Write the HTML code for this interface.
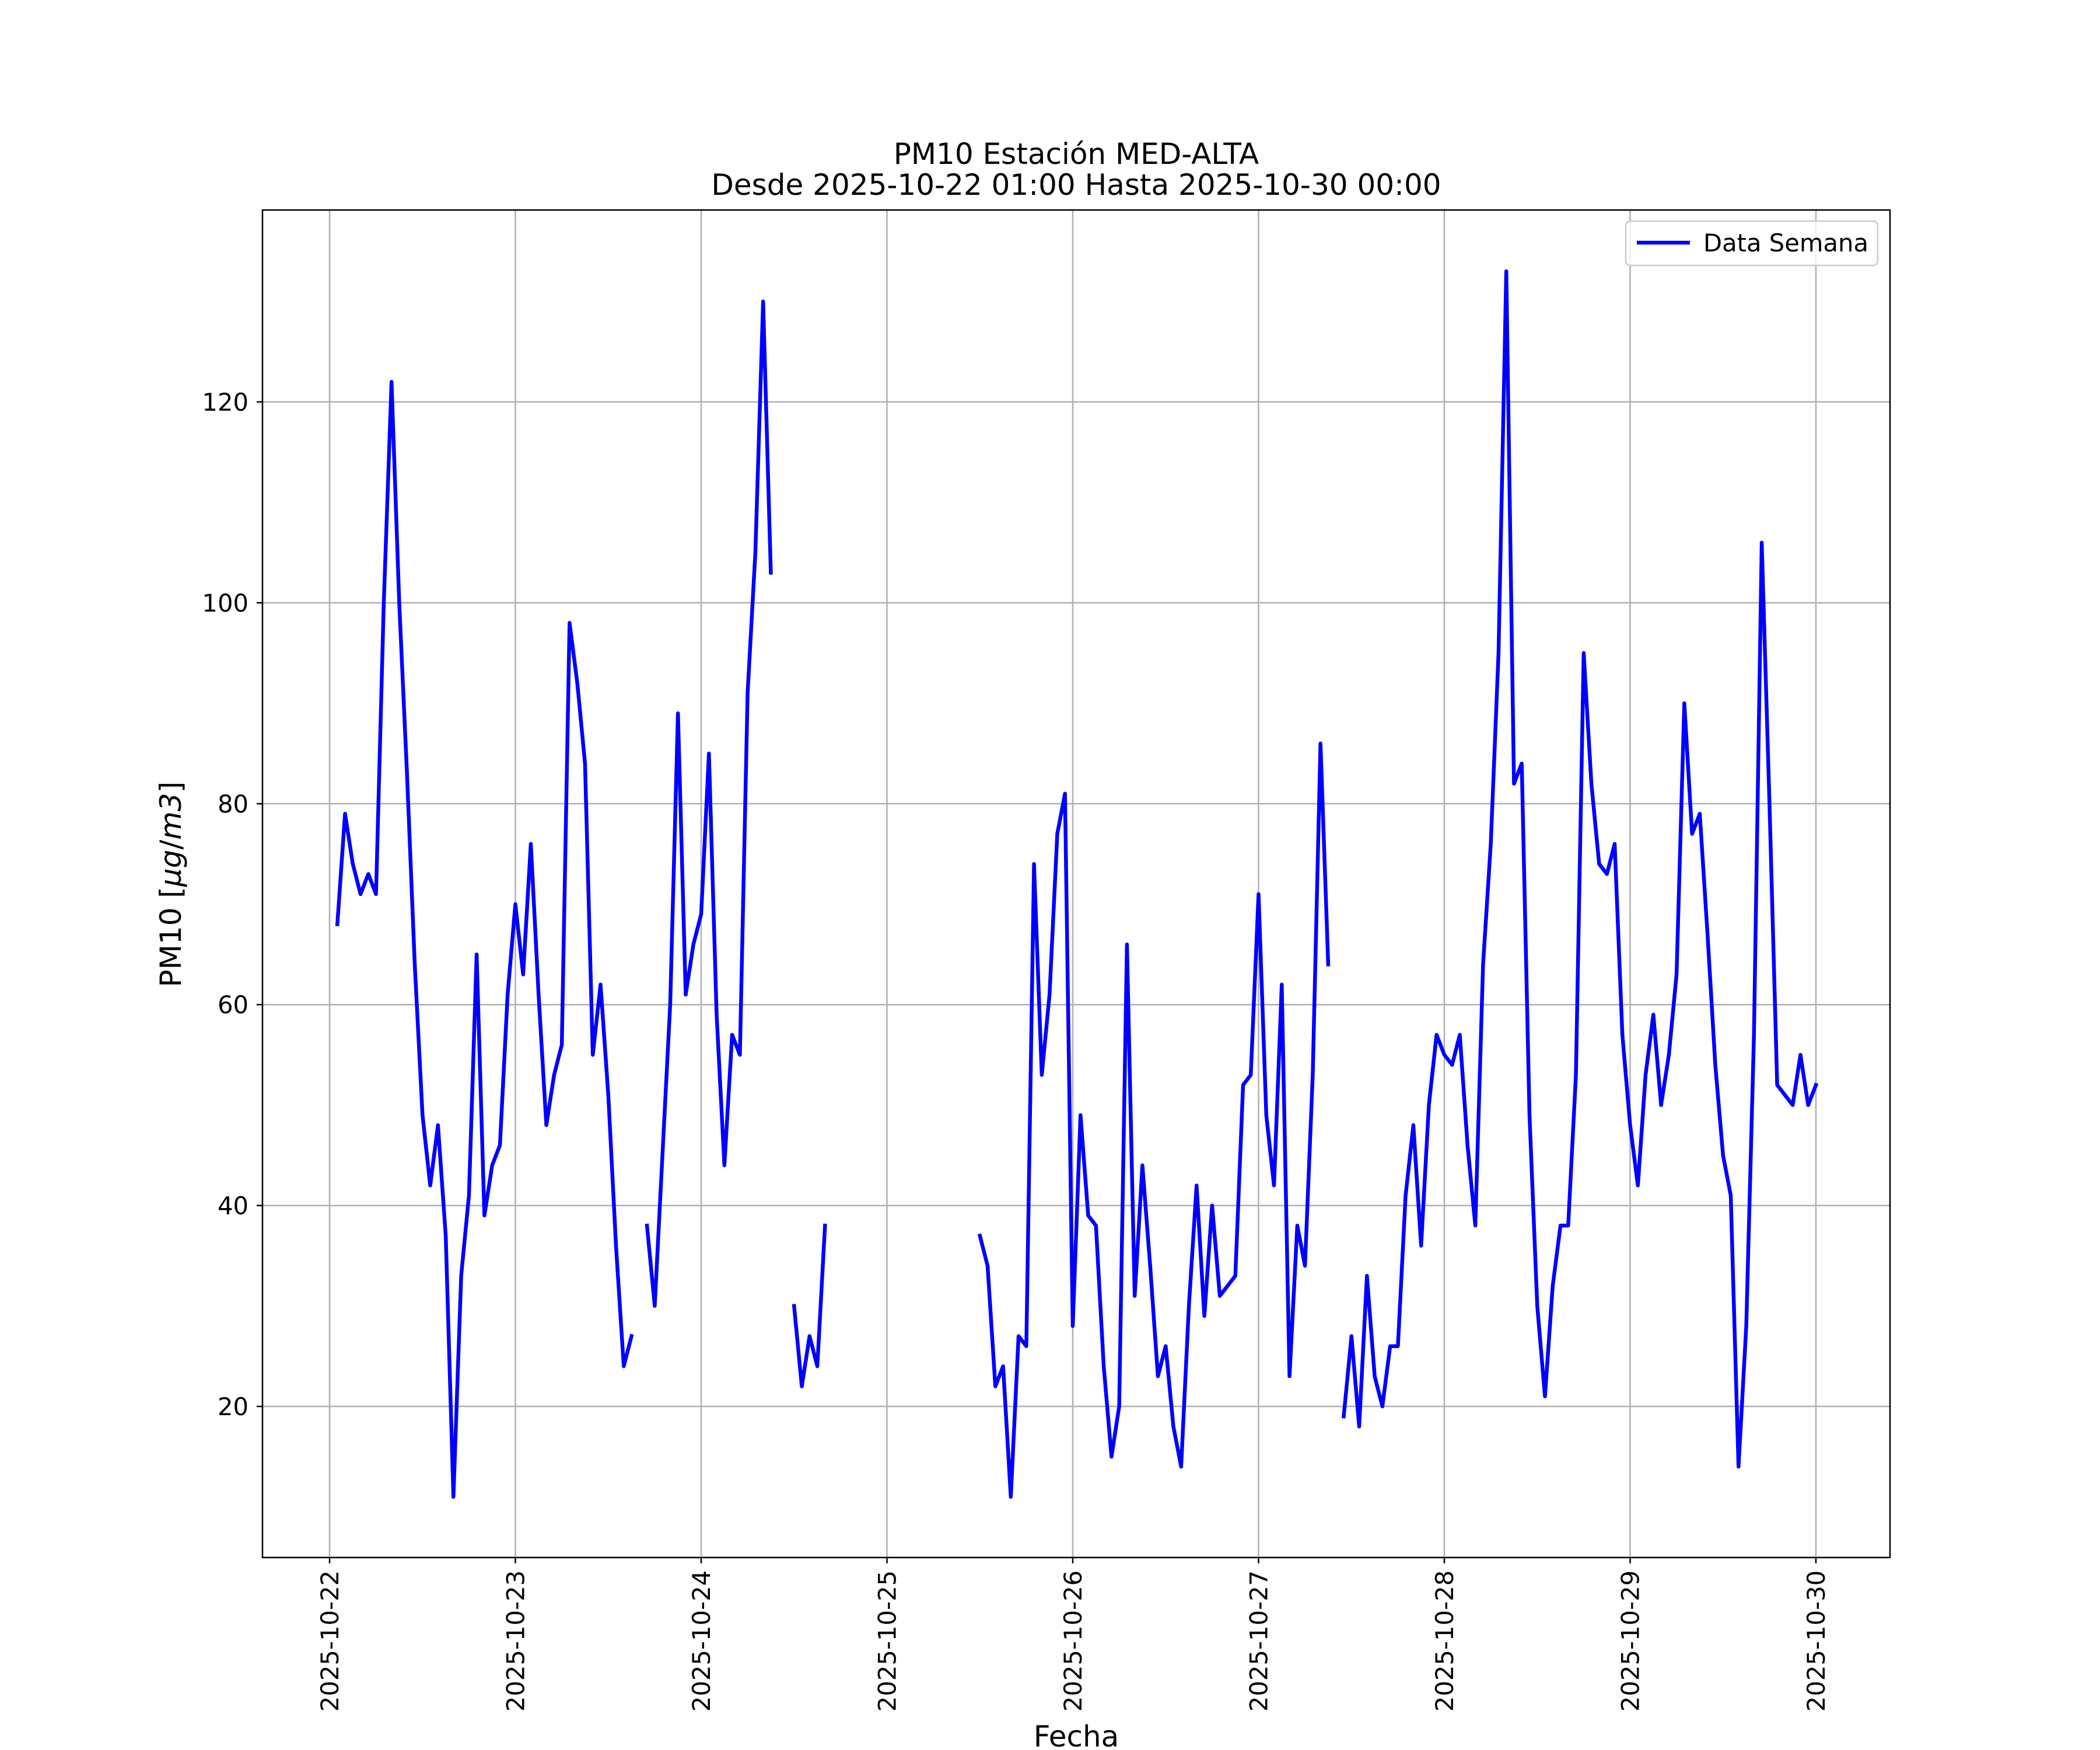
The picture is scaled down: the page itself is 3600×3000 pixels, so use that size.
<!DOCTYPE html>
<html><head><meta charset="utf-8"><style>
html,body{margin:0;padding:0;background:#fff;}
svg{display:block;font-family:"DejaVu Sans","Liberation Sans",sans-serif;}
</style></head><body>
<svg id="chart" width="3600" height="3000" viewBox="0 0 3600 3000" xmlns="http://www.w3.org/2000/svg">
<rect width="3600" height="3000" fill="#fff"/>
<g id="grid"></g>
<g id="series"></g>
<rect x="450" y="360" width="2790" height="2310" fill="none" stroke="#000" stroke-width="2.5"/>
<g id="xticks"></g>
<g id="yticks"></g>
<text x="1845" y="281" font-size="50" text-anchor="middle">PM10 Estación MED-ALTA</text>
<text x="1845" y="334" font-size="50" text-anchor="middle">Desde 2025-10-22 01:00 Hasta 2025-10-30 00:00</text>
<text x="1845" y="2994" font-size="50" text-anchor="middle">Fecha</text>
<text transform="translate(310,1516) rotate(-90)" font-size="50" text-anchor="middle">PM10 [<tspan font-style="italic">μg</tspan>/<tspan font-style="italic">m3</tspan>]</text>
<g>
<rect x="2787" y="379" width="432" height="76" rx="8" fill="#fff" fill-opacity="0.8" stroke="#ccc" stroke-width="2.5"/>
<line x1="2806" y1="416" x2="2897" y2="416" stroke="#0000ff" stroke-width="6.5"/>
<text x="2920" y="431" font-size="41.7">Data Semana</text>
</g>
</svg>
<script>
const dayLabels=["2025-10-22","2025-10-23","2025-10-24","2025-10-25","2025-10-26","2025-10-27","2025-10-28","2025-10-29","2025-10-30"];
const yTicks=[20,40,60,80,100,120];
const startHour=1;
const pm10=[68,79,74,71,73,71,100,122,100,83,64,49,42,48,37,11,33,41,65,39,44,46,61,70,
63,76,61,48,53,56,98,92,84,55,62,51,36,24,27,null,38,30,45,60,89,61,66,69,85,59,44,57,55,91,105,130,103,
null,null,30,22,27,24,38,null,null,null,null,null,null,null,null,null,null,null,null,null,null,null,null,null,null,null,
37,34,22,24,11,27,26,74,53,61,77,81,28,49,39,38,24,15,20,66,31,44,34,23,26,18,14,30,42,29,40,31,32,33,52,53,71,49,42,62,23,38,34,53,86,64,
null,19,27,18,33,23,20,26,26,41,48,36,50,57,55,54,57,46,38,64,76,95,133,82,84,49,30,21,32,38,38,53,95,82,74,73,76,57,48,42,53,59,50,55,63,90,77,79,67,54,45,41,14,28,57,106,80,52,51,50,55,50,52];
const X0=450,X1=3240,Y0=360,Y1=2670;
const sx=d=>565+d*318.5;
const sy=v=>2411-(v-20)*17.22;
const NS="http://www.w3.org/2000/svg";
const g=document.getElementById('grid'),xt=document.getElementById('xticks'),yt=document.getElementById('yticks'),se=document.getElementById('series');
function mk(t,a,p){const e=document.createElementNS(NS,t);for(const k in a)e.setAttribute(k,a[k]);p.appendChild(e);return e;}
dayLabels.forEach((lab,i)=>{const x=sx(i);
const gl=mk('line',{x1:x,x2:x,y1:Y0,y2:Y1,stroke:'#b0b0b0','stroke-width':2.5},g);


const tk=mk('line',{x1:x,x2:x,y1:Y1,y2:Y1+10,stroke:'#000','stroke-width':2.5},xt);


const t=mk('text',{transform:`translate(${x+15},${Y1+22}) rotate(-90)`,'font-size':41.7,'text-anchor':'end'},xt);
t.textContent=lab;


});
yTicks.forEach(v=>{const y=sy(v);
const gl=mk('line',{x1:X0,x2:X1,y1:y,y2:y,stroke:'#b0b0b0','stroke-width':2.5},g);


const tk=mk('line',{x1:X0-10,x2:X0,y1:y,y2:y,stroke:'#000','stroke-width':2.5},yt);


const t=mk('text',{x:X0-24,y:y+15,'font-size':41.7,'text-anchor':'end'},yt);
t.textContent=v;


});
let d='',pen=false;
pm10.forEach((v,i)=>{if(v===null){pen=false;return;}
const x=sx((i+startHour)/24),y=sy(v);d+=(pen?'L':'M')+x.toFixed(1)+','+y.toFixed(1);pen=true;});
const p=mk('path',{d:d,fill:'none',stroke:'#0000ff','stroke-width':6.5,'stroke-linejoin':'round','stroke-linecap':'square'},se);


</script>
</body></html>
